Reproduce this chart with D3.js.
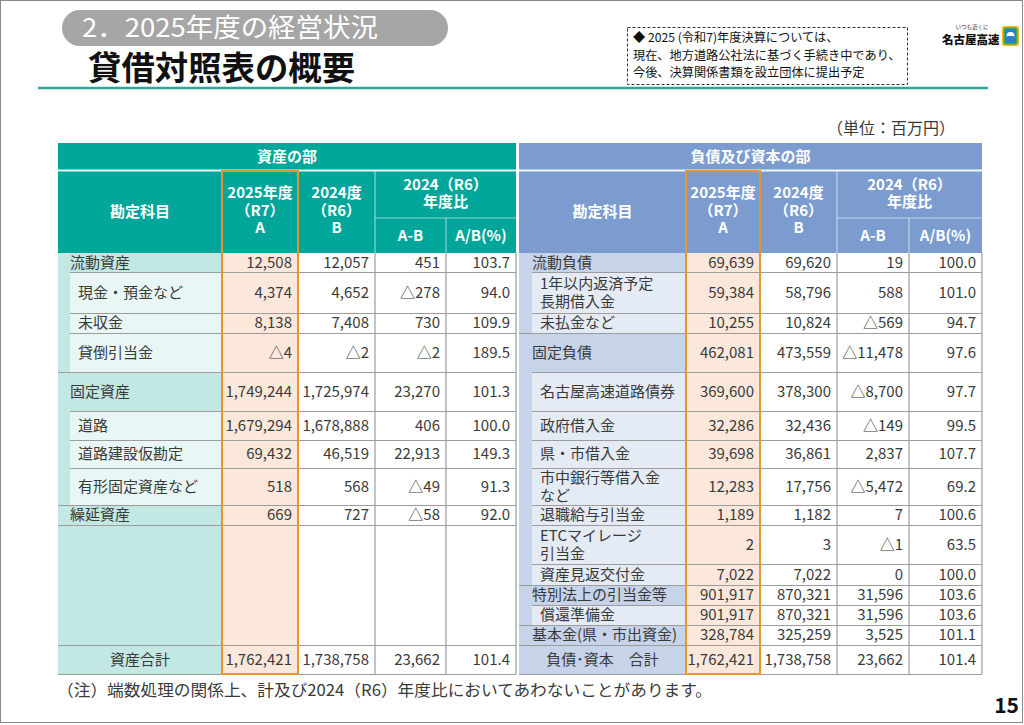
<!DOCTYPE html>
<html>
<head>
<meta charset="utf-8">
<script src="https://cdn.jsdelivr.net/npm/d3@7"></script>
<style>
  body { margin: 0; background: #fff; }
  svg { display: block; }
  text { font-family: "Noto Sans CJK JP", "Noto Sans", sans-serif; }
</style>
</head>
<body>
<svg id="chart" width="1024" height="725"></svg>
<script>
/* ═══ 貸借対照表の概要 — D3 table ═══ */

// ── 資産の部
const assetLabels = ['流動資産', '現金・預金など', '未収金', '貸倒引当金', '固定資産', '道路', '道路建設仮勘定', '有形固定資産など', '繰延資産'];
const assetLevels = [0, 1, 1, 1, 0, 1, 1, 1, 0];
const assetA     = [12508, 4374, 8138, -4, 1749244, 1679294, 69432, 518, 669];
const assetB     = [12057, 4652, 7408, -2, 1725974, 1678888, 46519, 568, 727];
const assetDiff  = [451, -278, 730, -2, 23270, 406, 22913, -49, -58];
const assetRatio = [103.7, 94.0, 109.9, 189.5, 101.3, 100.0, 149.3, 91.3, 92.0];
const assetTotal = [1762421, 1738758, 23662, 101.4];

// ── 負債及び資本の部
const liabLabels = ['流動負債', '1年以内返済予定\n長期借入金', '未払金など', '固定負債', '名古屋高速道路債券', '政府借入金',
  '県・市借入金', '市中銀行等借入金\nなど', '退職給与引当金', 'ETCマイレージ\n引当金', '資産見返交付金', '特別法上の引当金等', '償還準備金', '基本金(県・市出資金)'];
const liabLevels = [0, 1, 1, 0, 1, 1, 1, 1, 1, 1, 1, 0, 1, 0];
const liabA     = [69639, 59384, 10255, 462081, 369600, 32286, 39698, 12283, 1189, 2, 7022, 901917, 901917, 328784];
const liabB     = [69620, 58796, 10824, 473559, 378300, 32436, 36861, 17756, 1182, 3, 7022, 870321, 870321, 325259];
const liabDiff  = [19, 588, -569, -11478, -8700, -149, 2837, -5472, 7, -1, 0, 31596, 31596, 3525];
const liabRatio = [100.0, 101.0, 94.7, 97.6, 97.7, 99.5, 107.7, 69.2, 100.6, 63.5, 100.0, 103.6, 103.6, 101.1];
const liabTotal = [1762421, 1738758, 23662, 101.4];

// row heights shared by both sides (body rows + total row)
const rowH = [19, 41, 20, 39, 39, 29, 28, 37, 20, 39, 21, 20, 20, 20, 29];
const bodyTop = 253;

const svg = d3.select('#chart');
const TXT = '#3a3a3a';
const GRID = '#9c9c9c';
const ORANGE = '#e8952e';
const PEACH = '#fce8da';

const fmtInt = d3.format(',');
const fmtAmt = v => v < 0 ? '△' + fmtInt(-v) : fmtInt(v);
const fmtPct = d3.format('.1f');

const yEdge = [bodyTop, ...Array.from(d3.cumsum(rowH), v => bodyTop + v)];
const rowY = d3.scaleOrdinal().domain(d3.range(yEdge.length)).range(yEdge);

// page frame
svg.append('rect').attr('x', 0.5).attr('y', 0.5).attr('width', 1022).attr('height', 722)
  .attr('fill', 'none').attr('stroke', '#8a8a8a');

// ── heading
svg.append('rect').attr('x', 62).attr('y', 10).attr('width', 386).attr('height', 36).attr('rx', 18)
  .attr('fill', '#a6a6a6');
svg.append('text').attr('x', 82).attr('y', 28).attr('dy', '0.35em')
  .attr('font-size', 26).attr('fill', '#fff').attr('textLength', 296).attr('lengthAdjust', 'spacingAndGlyphs')
  .text('2．2025年度の経営状況');
svg.append('text').attr('x', 88).attr('y', 68).attr('dy', '0.35em')
  .attr('font-size', 33).attr('font-weight', 700).attr('fill', '#111')
  .attr('textLength', 267).attr('lengthAdjust', 'spacingAndGlyphs')
  .text('貸借対照表の概要');
svg.append('line').attr('x1', 38).attr('x2', 988).attr('y1', 88).attr('y2', 88)
  .attr('stroke', '#2fa597').attr('stroke-width', 2.5);

// note box
svg.append('rect').attr('x', 627.5).attr('y', 27.5).attr('width', 280).attr('height', 57)
  .attr('fill', '#fff').attr('stroke', '#333').attr('stroke-dasharray', '3,2');
const noteLines = ['◆ 2025 (令和7)年度決算については、', '現在、地方道路公社法に基づく手続き中であり、', '今後、決算関係書類を設立団体に提出予定'];
svg.append('g').selectAll('text').data(noteLines).join('text')
  .attr('x', 633).attr('y', (d, i) => 38 + i * 17.5).attr('dy', '0.35em')
  .attr('font-size', 12.2).attr('fill', '#111').text(d => d);

// logo
svg.append('text').attr('x', 972).attr('y', 27).attr('dy', '0.35em').attr('text-anchor', 'middle')
  .attr('font-size', 5.5).attr('fill', '#333').text('いつも近くに');
svg.append('text').attr('x', 942).attr('y', 40).attr('dy', '0.35em')
  .attr('font-size', 11.5).attr('font-weight', 900).attr('fill', '#111').text('名古屋高速');
const logo = svg.append('g').attr('transform', 'translate(1002,26)');
logo.append('rect').attr('width', 17).attr('height', 20).attr('rx', 3).attr('fill', '#f2b51c');
logo.append('rect').attr('x', 1.5).attr('y', 1.5).attr('width', 14).attr('height', 17).attr('rx', 2).attr('fill', '#3aa65a');
logo.append('rect').attr('x', 3).attr('y', 3).attr('width', 11).attr('height', 14).attr('rx', 2).attr('fill', '#2b7fc4');
logo.append('circle').attr('cx', 8.5).attr('cy', 10).attr('r', 4).attr('fill', '#fff');
logo.append('rect').attr('x', 4.5).attr('y', 10).attr('width', 8).attr('height', 4).attr('fill', '#2b7fc4');

// unit
svg.append('text').attr('x', 955).attr('y', 128).attr('dy', '0.35em').attr('text-anchor', 'end')
  .attr('font-size', 16).attr('fill', TXT).text('（単位：百万円）');

// ── tables
function buildRows(labels, levels, A, B, D, R) {
  return labels.map((l, i) => ({ label: l, level: levels[i], vals: [A[i], B[i], D[i], R[i]], r0: i, r1: i + 1 }));
}

const sides = [
  {
    title: '資産の部', cols: [58, 222, 298, 375, 446, 516],
    head: '#00a699', dark: '#c3e8e4', light: '#e8f6f5', strip: 12,
    rows: buildRows(assetLabels, assetLevels, assetA, assetB, assetDiff, assetRatio),
    totalLabel: '資産合計', total: assetTotal
  },
  {
    title: '負債及び資本の部', cols: [519, 686, 760, 837, 909, 982],
    head: '#7c9cd0', dark: '#c6d3e9', light: '#e5ebf5', strip: 13,
    rows: buildRows(liabLabels, liabLevels, liabA, liabB, liabDiff, liabRatio),
    totalLabel: '負債･資本　合計', total: liabTotal
  }
];

sides.forEach(s => {
  const colX = d3.scaleOrdinal().domain(['label', 'A', 'B', 'diff', 'ratio', 'end']).range(s.cols);
  const x0 = colX('label'), x1 = colX('end');
  const g = svg.append('g');
  const totalIdx = rowH.length - 1;

  // header
  g.append('rect').attr('x', x0).attr('y', 143).attr('width', x1 - x0).attr('height', 110).attr('fill', s.head);
  const hl = g.append('g').attr('stroke', '#fff').attr('stroke-opacity', 0.55).attr('stroke-width', 1.2);
  hl.append('line').attr('x1', x0).attr('x2', x1).attr('y1', 170.5).attr('y2', 170.5).attr('stroke-opacity', 0.9).attr('stroke-width', 2);
  hl.append('line').attr('x1', colX('diff')).attr('x2', x1).attr('y1', 218).attr('y2', 218);
  hl.append('line').attr('x1', colX('diff')).attr('x2', colX('diff')).attr('y1', 171).attr('y2', 253);
  hl.append('line').attr('x1', colX('ratio')).attr('x2', colX('ratio')).attr('y1', 218).attr('y2', 253);

  const ht = g.append('g').attr('fill', '#fff').attr('font-weight', 700).attr('font-size', 15).attr('text-anchor', 'middle');
  const mid = (a, b) => (colX(a) + colX(b)) / 2;
  const headTexts = [
    [s.title, (x0 + x1) / 2, 157],
    ['勘定科目', mid('label', 'A'), 212],
    ['2025年度', mid('A', 'B'), 193], ['（R7）', mid('A', 'B'), 211], ['A', mid('A', 'B'), 228],
    ['2024度', mid('B', 'diff'), 193], ['（R6）', mid('B', 'diff'), 211], ['B', mid('B', 'diff'), 228],
    ['2024（R6）', mid('diff', 'end'), 185], ['年度比', mid('diff', 'end'), 202],
    ['A-B', mid('diff', 'ratio'), 236], ['A/B(%)', mid('ratio', 'end'), 236]
  ];
  ht.selectAll('text').data(headTexts).join('text')
    .attr('x', d => d[1]).attr('y', d => d[2]).attr('dy', '0.35em').text(d => d[0]);

  // body backgrounds
  const bodyBottom = rowY(rowH.length);
  g.append('rect').attr('x', x0).attr('y', bodyTop).attr('width', colX('A') - x0).attr('height', bodyBottom - bodyTop).attr('fill', s.dark);
  g.append('rect').attr('x', colX('A')).attr('y', bodyTop).attr('width', colX('B') - colX('A')).attr('height', bodyBottom - bodyTop).attr('fill', PEACH);
  g.append('rect').attr('x', colX('B')).attr('y', bodyTop).attr('width', x1 - colX('B')).attr('height', bodyBottom - bodyTop).attr('fill', '#fff');

  g.append('g').selectAll('rect').data(s.rows.filter(r => r.level === 1)).join('rect')
    .attr('x', x0 + s.strip).attr('y', r => rowY(r.r0))
    .attr('width', colX('A') - x0 - s.strip).attr('height', r => rowY(r.r1) - rowY(r.r0))
    .attr('fill', s.light);

  // horizontal grid
  const hLines = [];
  s.rows.forEach((r, i) => {
    const next = s.rows[i + 1];
    const indent = next && next.level === 1;
    hLines.push({ y: rowY(r.r1), xa: indent ? x0 + s.strip : x0 });
  });
  hLines.push({ y: rowY(totalIdx), xa: x0 });
  hLines.push({ y: rowY(totalIdx + 1), xa: x0 });
  g.append('g').selectAll('line').data(hLines).join('line')
    .attr('x1', d => d.xa).attr('x2', x1).attr('y1', d => d.y + 0.5).attr('y2', d => d.y + 0.5)
    .attr('stroke', GRID).attr('stroke-width', 1.2);

  // vertical grid
  g.append('g').selectAll('line').data(['diff', 'ratio', 'end']).join('line')
    .attr('x1', d => colX(d)).attr('x2', d => colX(d)).attr('y1', bodyTop).attr('y2', bodyBottom)
    .attr('stroke', GRID).attr('stroke-width', 1.2);

  // labels
  const lab = g.append('g').attr('font-size', 15).attr('fill', TXT);
  s.rows.forEach(r => {
    const lines = r.label.split('\n');
    const cy = (rowY(r.r0) + rowY(r.r1)) / 2;
    lab.append('text').selectAll('tspan').data(lines).join('tspan')
      .attr('x', x0 + s.strip + (r.level === 1 ? 8 : 0))
      .attr('y', (d, i) => cy + (i - (lines.length - 1) / 2) * 18)
      .attr('dy', '0.35em').text(d => d);
  });
  lab.append('text').attr('x', (x0 + colX('A')) / 2).attr('y', (rowY(totalIdx) + rowY(totalIdx + 1)) / 2)
    .attr('dy', '0.35em').attr('text-anchor', 'middle').text(s.totalLabel);

  // values
  const keys = ['B', 'diff', 'ratio', 'end'];
  const valRows = s.rows.map(r => ({ vals: r.vals, cy: (rowY(r.r0) + rowY(r.r1)) / 2 }))
    .concat([{ vals: s.total, cy: (rowY(totalIdx) + rowY(totalIdx + 1)) / 2 }]);
  const cells = valRows.flatMap(r => r.vals.map((v, j) => ({
    x: colX(keys[j]) - 6, y: r.cy, t: j === 3 ? fmtPct(v) : fmtAmt(v)
  })));
  g.append('g').attr('font-size', 15).attr('fill', TXT).attr('text-anchor', 'end')
    .selectAll('text').data(cells).join('text')
    .attr('x', d => d.x).attr('y', d => d.y).attr('dy', '0.35em').text(d => d.t);

  // highlighted current-year column
  g.append('rect').attr('x', colX('A')).attr('y', 171).attr('width', colX('B') - colX('A')).attr('height', bodyBottom - 171)
    .attr('fill', 'none').attr('stroke', ORANGE).attr('stroke-width', 2);
});

// footnote
svg.append('text').attr('x', 57).attr('y', 690).attr('dy', '0.35em').attr('font-size', 16).attr('fill', TXT)
  .attr('textLength', 655).attr('lengthAdjust', 'spacingAndGlyphs')
  .text('（注）端数処理の関係上、計及び2024（R6）年度比においてあわないことがあります。');

// page number
svg.append('text').attr('x', 1019).attr('y', 713).attr('text-anchor', 'end')
  .attr('font-size', 21).attr('font-weight', 700).attr('fill', '#111').text('15');
</script>
</body>
</html>
